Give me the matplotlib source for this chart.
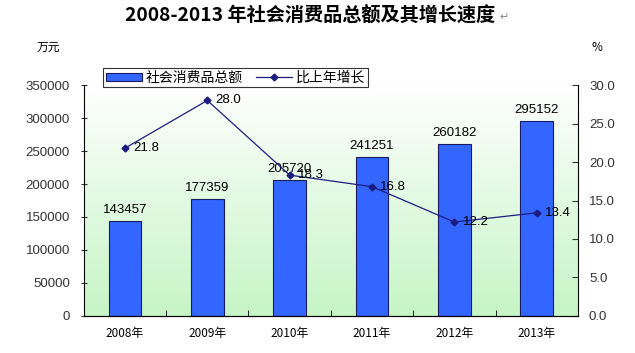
import numpy as np
import matplotlib.pyplot as plt

plt.rcParams['font.family'] = ['Noto Sans CJK SC', 'DejaVu Sans']

years = ["2008年", "2009年", "2010年", "2011年", "2012年", "2013年"]
totals = [143457, 177359, 205720, 241251, 260182, 295152]
growth = [21.8, 28.0, 18.3, 16.8, 12.2, 13.4]

fig = plt.figure(figsize=(6.35, 3.53), dpi=100)
ax = fig.add_axes([0.132, 0.105, 0.778, 0.654])
x = np.arange(len(years))

# gradient background: white at top, pale green at bottom
grad = np.linspace(0, 1, 256).reshape(-1, 1)
cmap = plt.matplotlib.colors.LinearSegmentedColormap.from_list("g", ["#c6f5c6", "#ffffff"])
ax.imshow(grad, aspect="auto", cmap=cmap, origin="lower",
          extent=[-0.5, 5.5, 0, 350000], zorder=0)

ax.bar(x, totals, width=0.4, color="#3366ff", edgecolor="#1a1a60",
       linewidth=0.8, zorder=2, label="社会消费品总额")
for xi, v in zip(x, totals):
    ax.text(xi, v + 8000, str(v), ha="center", va="bottom", fontsize=9.5,
            family="Liberation Sans", zorder=5)

ax.set_xlim(-0.5, 5.5)
ax.set_ylim(0, 350000)
ax.set_yticks(np.arange(0, 350001, 50000))
ax.set_yticklabels([str(v) for v in range(0, 350001, 50000)],
                   family="Liberation Sans", fontsize=9.5)
ax.set_xticks(x)
ax.set_xticklabels(years, fontsize=8.5)
ax.set_xticks(np.arange(-0.5, 6, 1), minor=True)
ax.tick_params(axis="x", which="major", length=0, pad=8)
ax.tick_params(axis="x", which="minor", length=4, direction="in")
ax.tick_params(axis="y", length=4, direction="inout", pad=8, colors="#333333")
ax.spines["top"].set_visible(False)
ax.spines["right"].set_visible(False)

ax2 = ax.twinx()
ax2.plot(x, growth, color="#1c1c80", linewidth=0.9, marker="D", markersize=3.5,
         label="比上年增长", zorder=4)
for xi, v in zip(x, growth):
    ax2.text(xi + 0.1, v, f"{v:.1f}", ha="left", va="center", fontsize=9.5,
             family="Liberation Sans", zorder=5)
ax2.set_ylim(0, 30)
ax2.set_yticks(np.arange(0, 30.1, 5))
ax2.set_yticklabels([f"{v:.1f}" for v in np.arange(0, 30.1, 5)],
                    family="Liberation Sans", fontsize=9.5)
ax2.tick_params(axis="y", length=4, direction="in", pad=8, colors="#333333")
ax2.spines["top"].set_visible(False)
ax2.spines["left"].set_visible(False)

h1, l1 = ax.get_legend_handles_labels()
h2, l2 = ax2.get_legend_handles_labels()
leg = fig.legend(h1 + h2, l1 + l2, loc="upper left", bbox_to_anchor=(0.162, 0.808),
                 ncol=2, fontsize=10, frameon=True, fancybox=False,
                 edgecolor="black", handlelength=2.6, handleheight=0.5,
                 borderpad=0.2, columnspacing=0.9, handletextpad=0.3,
                 borderaxespad=0)
leg.get_frame().set_linewidth(0.8)

fig.text(0.488, 0.958, "2008-2013 年社会消费品总额及其增长速度", ha="center", va="center",
         fontsize=13.8, fontweight="bold")
fig.text(0.787, 0.952, "↵", ha="left", va="center", fontsize=8, color="#888888",
         family="DejaVu Sans")
fig.text(0.076, 0.865, "万元", ha="center", va="center", fontsize=8.5, style="italic")
fig.text(0.94, 0.865, "%", ha="center", va="center", fontsize=8.5)

fig.savefig("out.png", dpi=100)
